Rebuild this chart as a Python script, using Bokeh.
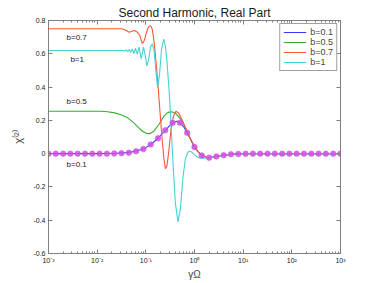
import numpy as np
from bokeh.plotting import figure
from bokeh.models import (LinearAxis, LogAxis, FixedTicker, CustomJSTickFormatter,
                          Label, Legend, LegendItem, Range1d)
from bokeh.embed import file_html
from bokeh.resources import INLINE

# ---------------- data ----------------
series_labels = ["b=0.1", "b=0.5", "b=0.7", "b=1"]

# b=0.1 curve: log10(gamma*Omega) and chi values
b01_logx = [-3.0, -2.0, -1.8, -1.6, -1.4, -1.25, -1.1, -1.0, -0.9, -0.8, -0.7, -0.6,
            -0.5, -0.42, -0.36, -0.3, -0.22, -0.15, -0.07, 0.0, 0.07, 0.15, 0.24,
            0.31, 0.38, 0.46, 0.61, 0.75, 0.96, 1.37, 2.0, 3.0]
b01_chi = [0.0, 0.0, 0.0005, 0.002, 0.006, 0.012, 0.023, 0.036, 0.055, 0.079, 0.108,
           0.140, 0.172, 0.190, 0.195, 0.187, 0.160, 0.125, 0.080, 0.040, 0.012,
           -0.011, -0.022, -0.024, -0.021, -0.016, -0.009, -0.004, -0.001, 0.0, 0.0, 0.0]

# b=0.5 curve
b05_logx = [-3.0, -1.928, -1.784, -1.639, -1.515, -1.371, -1.247, -1.144, -1.062,
            -0.979, -0.918, -0.835, -0.732, -0.629, -0.546, -0.464, -0.381, -0.278,
            -0.175, -0.093, 0.0, 0.07, 0.15, 0.24, 0.31, 0.38, 0.46, 0.61, 0.75,
            0.96, 1.37, 2.0, 3.0]
b05_chi = [0.255, 0.255, 0.252, 0.245, 0.234, 0.215, 0.185, 0.155, 0.133, 0.121,
           0.120, 0.135, 0.175, 0.225, 0.248, 0.252, 0.240, 0.205, 0.148, 0.092,
           0.040, 0.012, -0.011, -0.022, -0.024, -0.021, -0.016, -0.009, -0.004,
           -0.001, 0.0, 0.0, 0.0]

# b=0.7 curve
b07_logx = [-3.0, -1.515, -1.474, -1.392, -1.340, -1.289, -1.237, -1.186, -1.124,
            -1.098, -1.072, -1.047, -1.021, -0.990, -0.959, -0.933, -0.907, -0.886,
            -0.866, -0.825, -0.784, -0.742, -0.701, -0.660, -0.629, -0.598, -0.567,
            -0.526, -0.485, -0.433, -0.381, -0.330, -0.258, -0.175, -0.093, 0.0,
            0.07, 0.15, 0.24, 0.31, 0.38, 0.46, 0.61, 0.75, 0.96, 1.37, 2.0, 3.0]
b07_chi = [0.750, 0.750, 0.749, 0.738, 0.729, 0.735, 0.740, 0.733, 0.710, 0.685,
           0.662, 0.670, 0.690, 0.725, 0.752, 0.766, 0.768, 0.762, 0.745, 0.660,
           0.530, 0.380, 0.220, 0.070, -0.030, -0.090, -0.075, 0.020, 0.140, 0.225,
           0.255, 0.245, 0.205, 0.150, 0.092, 0.040, 0.012, -0.011, -0.022, -0.024,
           -0.021, -0.016, -0.009, -0.004, -0.001, 0.0, 0.0, 0.0]

# b=1 curve
b1_logx = [-3.0, -1.474, -1.433, -1.402, -1.371, -1.340, -1.309, -1.278, -1.247,
           -1.212, -1.175, -1.138, -1.097, -1.047, -1.013, -0.979, -0.945, -0.905,
           -0.866, -0.830, -0.795, -0.759, -0.720, -0.680, -0.633, -0.600, -0.567,
           -0.515, -0.474, -0.433, -0.392, -0.340, -0.289, -0.237, -0.186, -0.134,
           -0.093, -0.041, 0.031, 0.113, 0.196, 0.278, 0.381, 0.464, 0.608, 0.753,
           0.959, 1.371, 2.0, 3.0]
b1_chi = [0.620, 0.620, 0.617, 0.623, 0.613, 0.626, 0.609, 0.629, 0.602, 0.633,
          0.596, 0.640, 0.570, 0.640, 0.590, 0.527, 0.560, 0.640, 0.660, 0.620,
          0.500, 0.398, 0.470, 0.620, 0.688, 0.650, 0.560, 0.350, 0.130, -0.100,
          -0.300, -0.410, -0.330, -0.140, -0.030, 0.010, 0.015, 0.005, -0.015,
          -0.027, -0.027, -0.024, -0.021, -0.016, -0.009, -0.004, -0.001, 0.0, 0.0, 0.0]

# markers on the b=0.1 curve (41 points, 0.15 decade apart from 1e-3)
marker_logx = [-3.0 + 0.15 * k for k in range(41)]
marker_chi = [0.0, 0.0, 0.0, 0.0, 0.0, 0.0, 0.0, 0.0, 0.0, 0.001, 0.003, 0.006, 0.014,
              0.028, 0.055, 0.092, 0.140, 0.185, 0.186, 0.125, 0.040, -0.011, -0.024,
              -0.017, -0.009, -0.004, -0.002, -0.001, 0.0, 0.0, 0.0, 0.0, 0.0, 0.0,
              0.0, 0.0, 0.0, 0.0, 0.0, 0.0, 0.0]

x_ticks = [1e-3, 1e-2, 1e-1, 1e0, 1e1, 1e2, 1e3]
x_tick_labels = ["10\u207b\u00b3", "10\u207b\u00b2", "10\u207b\u00b9", "10\u2070",
                 "10\u00b9", "10\u00b2", "10\u00b3"]
y_ticks = [-0.6, -0.4, -0.2, 0.0, 0.2, 0.4, 0.6, 0.8]
y_tick_labels = ["-0.6", "-0.4", "-0.2", "0", "0.2", "0.4", "0.6", "0.8"]

# ---------------- styling ----------------
FONT = "Liberation Sans"
AX = "#7f7f7f"
colors = ["#3a3aff", "#3aaa35", "#ff5533", "#44d4d4"]
marker_color = "#d04fe0"

p = figure(width=375, height=283, x_axis_type="log",
           x_range=Range1d(1e-3, 1e3), y_range=Range1d(-0.6, 0.8),
           output_backend="svg", toolbar_location=None,
           min_border_left=48, min_border_right=35, min_border_top=20,
           min_border_bottom=30)
p.title.text = "Second Harmonic, Real Part"
p.title.text_font = FONT
p.title.text_font_size = "12px"
p.title.text_font_style = "normal"
p.title.text_color = "#1a1a1a"
p.title.align = "center"
p.title.standoff = 1
p.xgrid.grid_line_color = None
p.ygrid.grid_line_color = None
p.outline_line_color = AX
p.background_fill_color = "white"
p.border_fill_color = "white"

minor = [m * 10.0 ** e for e in range(-3, 3) for m in range(2, 10)]

xfmt = CustomJSTickFormatter(args=dict(tv=x_ticks, tl=x_tick_labels), code="""
let best = 0, bd = Infinity;
for (let i = 0; i < tv.length; i++) {
  const d = Math.abs(Math.log10(tv[i]) - Math.log10(tick));
  if (d < bd) { bd = d; best = i; }
}
return tl[best];
""")
yfmt = CustomJSTickFormatter(args=dict(tv=y_ticks, tl=y_tick_labels), code="""
let best = 0, bd = Infinity;
for (let i = 0; i < tv.length; i++) {
  const d = Math.abs(tv[i] - tick);
  if (d < bd) { bd = d; best = i; }
}
return tl[best];
""")

def style_axis(ax, labels=True):
    ax.axis_line_color = AX
    ax.major_tick_line_color = AX
    ax.minor_tick_line_color = AX
    ax.major_tick_in = 4
    ax.major_tick_out = 0
    ax.minor_tick_in = 2
    ax.minor_tick_out = 0
    if labels:
        ax.major_label_text_font = FONT
        ax.major_label_text_font_size = "7px"
        ax.major_label_text_color = "#1a1a1a"
        ax.major_label_standoff = 3
    else:
        ax.major_label_text_font_size = "1px"
        ax.major_label_text_alpha = 0
        ax.major_label_standoff = 0

xb = p.xaxis[0]
xb.ticker = FixedTicker(ticks=x_ticks, minor_ticks=minor)
xb.formatter = xfmt
style_axis(xb)
xb.axis_label = "\u03b3\u03a9"
xb.axis_label_text_font = FONT
xb.axis_label_text_font_style = "normal"
xb.axis_label_text_font_size = "10px"
xb.axis_label_standoff = 2

yl = p.yaxis[0]
yl.ticker = FixedTicker(ticks=y_ticks)
yl.formatter = yfmt
style_axis(yl)
yl.minor_tick_line_color = None
yl.axis_label = "\u03c7\u207d\u00b2\u207e"
yl.axis_label_text_font = FONT
yl.axis_label_text_font_style = "normal"
yl.axis_label_text_font_size = "11px"
yl.axis_label_standoff = 6

xt = LogAxis(ticker=FixedTicker(ticks=x_ticks, minor_ticks=minor))
style_axis(xt, labels=False)
p.add_layout(xt, "above")

yr = LinearAxis(ticker=FixedTicker(ticks=y_ticks))
style_axis(yr, labels=False)
yr.minor_tick_line_color = None
p.add_layout(yr, "right")

all_logx = [b01_logx, b05_logx, b07_logx, b1_logx]
all_chi = [b01_chi, b05_chi, b07_chi, b1_chi]
renderers = []
for lx, chi, c in zip(all_logx, all_chi, colors):
    r = p.line(10.0 ** np.array(lx), chi, line_color=c, line_width=1.1)
    renderers.append(r)

p.scatter(10.0 ** np.array(marker_logx), marker_chi, size=5.5, marker="circle",
          fill_color=marker_color, line_color=marker_color, fill_alpha=0.85,
          line_alpha=0.6)

legend = Legend(items=[LegendItem(label=l, renderers=[r]) for l, r in zip(series_labels, renderers)],
                location="top_right", label_text_font=FONT, label_text_font_size="9px",
                glyph_width=23, glyph_height=10, label_height=10, spacing=0,
                padding=3, margin=3, label_standoff=4,
                border_line_color="#404040", border_line_width=1,
                background_fill_color="white", background_fill_alpha=1)
p.add_layout(legend)

# curve annotations
for txt, lx, yv in [("b=0.7", -2.63, 0.697), ("b=1", -2.55, 0.565),
                    ("b=0.5", -2.63, 0.311), ("b=0.1", -2.63, -0.068)]:
    p.add_layout(Label(x=10 ** lx, y=yv, text=txt, text_font=FONT,
                       text_font_size="8px", text_baseline="middle",
                       text_align="left", text_color="#1a1a1a"))

open("out.html", "w").write(file_html(p, INLINE))
